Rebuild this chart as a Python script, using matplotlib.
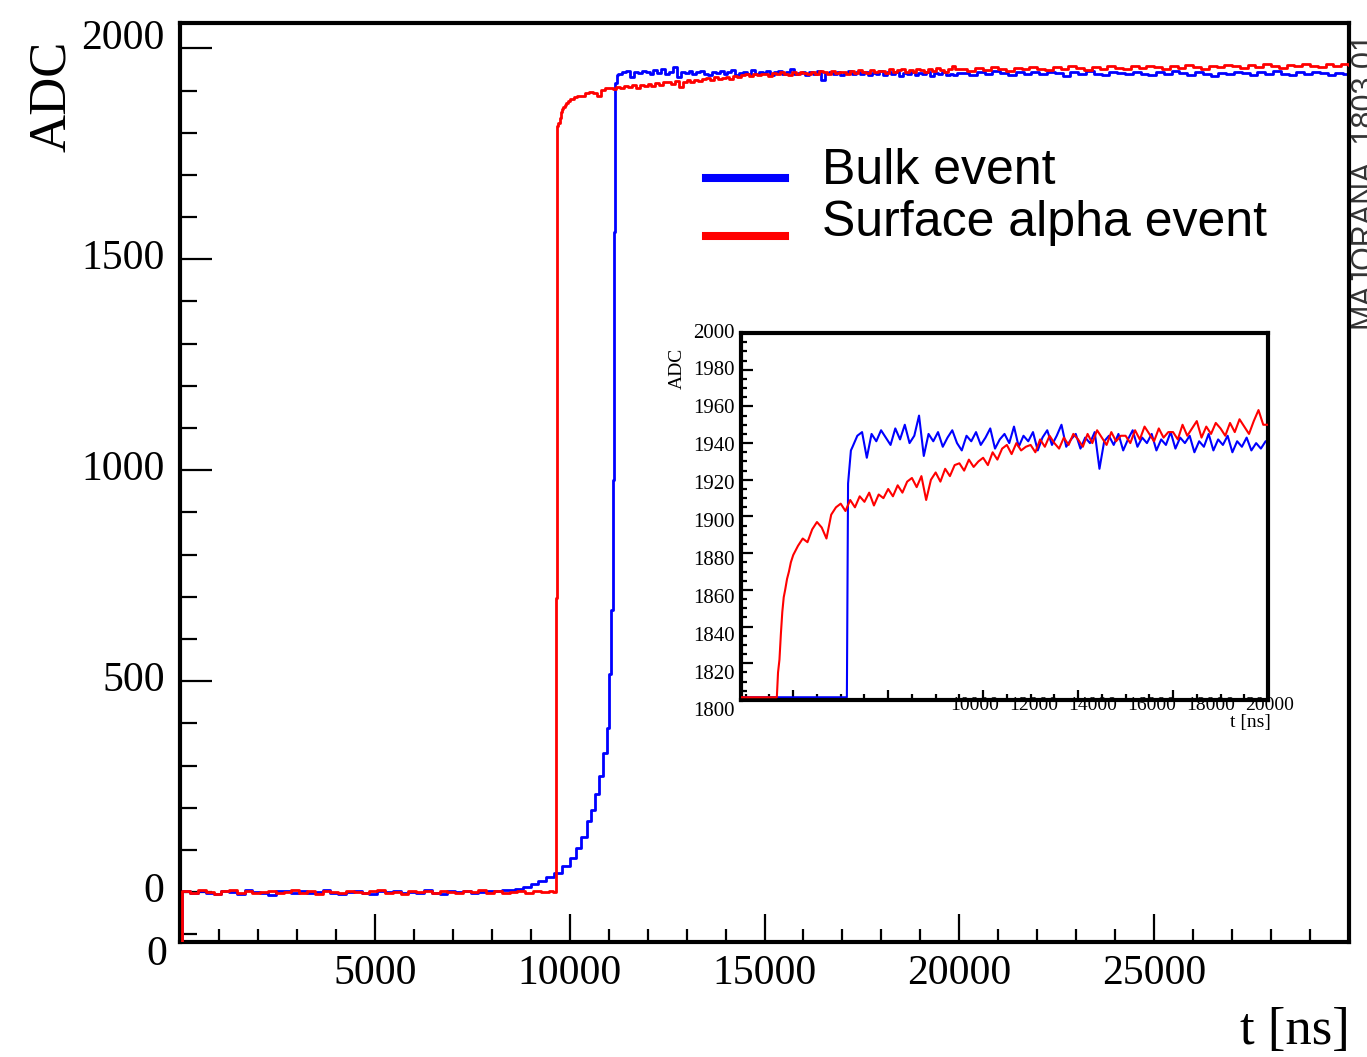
import numpy as np
import matplotlib
matplotlib.use("Agg")
import matplotlib.pyplot as plt
from matplotlib.ticker import MultipleLocator, FixedLocator
from matplotlib.lines import Line2D
from matplotlib.legend_handler import HandlerLine2D
from matplotlib.transforms import ScaledTranslation

plt.rcParams['font.family'] = ['Liberation Serif', 'DejaVu Serif']

# ------------------------------------------------------------------ data
legend_labels = ['Bulk event', 'Surface alpha event']
start_adc = -120          # first sample of each trace (below the axis range)

# Bulk event (blue)
bulk_base_t0, bulk_base_dt = 60, 200
bulk_base_adc = [2, -3, 4, -1, -5, 3, 0, -4, 5, 1,
                 -2, -6, 3, 2, -1, 4, -3, 0, 5, -2,
                 -4, 1, 3, -1, -5, 2, 0, 4, -3, 1,
                 -2, 5, -1, -4, 2, 0, 3, -2, 1, 4,
                 2, 5, 6]
bulk_rise_t = [8600, 8800, 9000, 9200, 9400, 9600, 9800, 10000, 10150, 10300,
               10450, 10550, 10650, 10750, 10850, 10950, 11000, 11050, 11100,
               11130, 11155, 11215]
bulk_rise_adc = [8, 13, 19, 27, 35, 46, 62, 82, 104, 132,
                 168, 196, 232, 275, 330, 389, 516, 670, 976,
                 1564, 1918, 1936]
bulk_top_t0, bulk_top_dt = 11250, 100
bulk_top_adc = [1938, 1944, 1946, 1932, 1945, 1941, 1947, 1943, 1939, 1948,
                1942, 1950, 1940, 1944, 1955, 1933, 1945, 1941, 1946, 1938,
                1943, 1947, 1940, 1936, 1944, 1941, 1946, 1939, 1943, 1948,
                1937, 1942, 1945, 1940, 1949, 1938, 1944, 1941, 1946, 1936,
                1943, 1947, 1939, 1944, 1950, 1938, 1942, 1945, 1937, 1943,
                1940, 1946, 1926, 1941, 1944, 1939, 1945, 1936, 1942, 1947,
                1938, 1943, 1940, 1945, 1936, 1942, 1939, 1946, 1937, 1943,
                1940, 1944, 1935, 1941, 1938, 1945, 1936, 1942, 1939, 1944,
                1935, 1941, 1938, 1943, 1936, 1940, 1937, 1941]
bulk_tail_t0, bulk_tail_dt = 20050, 200
bulk_tail_adc = [1941, 1937, 1944, 1939, 1946, 1942, 1936, 1943, 1940, 1945,
                 1938, 1944, 1941, 1935, 1943, 1939, 1946, 1940, 1937, 1944,
                 1942, 1938, 1945, 1940, 1936, 1943, 1939, 1946, 1941, 1937,
                 1944, 1940, 1935, 1942, 1938, 1945, 1941, 1937, 1943, 1939,
                 1946, 1940, 1936, 1943, 1938, 1944, 1941, 1937, 1942, 1939,
                 1940]

# Surface alpha event (red)
surf_base_t0, surf_base_dt = 60, 200
surf_base_adc = [3, -2, 5, 0, -4, 2, 6, -1, 3, -3,
                 1, 4, -2, 0, 5, -1, 2, -4, 3, 1,
                 -2, 4, 0, -3, 2, 5, -1, 1, -4, 3,
                 0, 2, -2, 4, 1, -3, 2, 0, 5, -1,
                 3, -2, 1, 4, -1, 2, 0, 3]
surf_rise_t = [9560, 9640, 9655, 9680, 9710, 9740, 9770, 9800, 9830, 9870, 9910, 9950]
surf_rise_adc = [1, 3, 697, 1815, 1822, 1836, 1848, 1856, 1860, 1866, 1870, 1875]
surf_top_t0, surf_top_dt = 10000, 100
surf_top_adc = [1879, 1884, 1888, 1886, 1893, 1897, 1894, 1888, 1901, 1905,
                1907, 1903, 1909, 1905, 1911, 1908, 1913, 1906, 1912, 1910,
                1915, 1911, 1917, 1913, 1919, 1921, 1916, 1922, 1909, 1920,
                1924, 1919, 1926, 1922, 1928, 1929, 1925, 1931, 1927, 1930,
                1932, 1928, 1935, 1931, 1937, 1939, 1934, 1940, 1936, 1938,
                1939, 1935, 1942, 1938, 1944, 1940, 1937, 1943, 1939, 1945,
                1942, 1938, 1945, 1940, 1947, 1943, 1939, 1946, 1941, 1944,
                1944, 1940, 1947, 1942, 1949, 1945, 1941, 1948, 1943, 1946,
                1946, 1942, 1950, 1944, 1948, 1952, 1943, 1949, 1945, 1951,
                1948, 1944, 1951, 1946, 1953, 1949, 1945, 1952, 1958, 1950]
surf_tail_t0, surf_tail_dt = 20000, 200
surf_tail_adc = [1950, 1946, 1953, 1949, 1955, 1951, 1947, 1954, 1950, 1956,
                 1952, 1948, 1955, 1951, 1957, 1953, 1949, 1956, 1952, 1958,
                 1954, 1950, 1957, 1953, 1959, 1955, 1951, 1958, 1954, 1960,
                 1956, 1952, 1959, 1955, 1961, 1957, 1953, 1960, 1956, 1962,
                 1958, 1954, 1961, 1957, 1963, 1959, 1955, 1962, 1958, 1964,
                 1960]


def grid(t0, dt, vals):
    return t0 + dt * np.arange(len(vals))


bulk_t = np.concatenate([[0], grid(bulk_base_t0, bulk_base_dt, bulk_base_adc), bulk_rise_t,
                         grid(bulk_top_t0, bulk_top_dt, bulk_top_adc),
                         grid(bulk_tail_t0, bulk_tail_dt, bulk_tail_adc)])
bulk_adc = np.concatenate([[start_adc], bulk_base_adc, bulk_rise_adc, bulk_top_adc, bulk_tail_adc]).astype(float)
surf_t = np.concatenate([[0], grid(surf_base_t0, surf_base_dt, surf_base_adc), surf_rise_t,
                         grid(surf_top_t0, surf_top_dt, surf_top_adc),
                         grid(surf_tail_t0, surf_tail_dt, surf_tail_adc)])
surf_adc = np.concatenate([[start_adc], surf_base_adc, surf_rise_adc, surf_top_adc, surf_tail_adc]).astype(float)

BLUE, RED = '#0000ff', '#ff0000'

# ------------------------------------------------------------------ figure
W, H = 1367, 1057
fig = plt.figure(figsize=(W / 100, H / 100), dpi=100)


def px_axes(l, t, r, b):
    return [l / W, 1 - b / H, (r - l) / W, (b - t) / H]


ax = fig.add_axes(px_axes(180, 23, 1349, 942))
ax.plot(bulk_t, bulk_adc, color=BLUE, lw=2.0, drawstyle='steps-post', zorder=2)
ax.plot(surf_t, surf_adc, color=RED, lw=2.0, drawstyle='steps-post', zorder=3)
ax.set_xlim(0, 30000)
ax.set_ylim(-118, 2060)
ax.xaxis.set_major_locator(FixedLocator([5000, 10000, 15000, 20000, 25000]))
ax.xaxis.set_minor_locator(MultipleLocator(1000))
ax.yaxis.set_major_locator(FixedLocator([0, 500, 1000, 1500, 2000]))
ax.yaxis.set_minor_locator(MultipleLocator(100))
ax.tick_params(which='both', direction='in', top=False, right=False,
               labelsize=30, width=1.6, color='black')
ax.tick_params(axis='y', which='major', length=23, pad=11)
ax.tick_params(axis='y', which='minor', length=12.5)
ax.tick_params(axis='x', which='major', length=20, pad=9)
ax.tick_params(axis='x', which='minor', length=9.5)
for sp in ax.spines.values():
    sp.set_linewidth(3)
fig.canvas.draw()
for lab in ax.get_yticklabels():
    up = 14 if lab.get_text() == '2000' else 5
    lab.set_transform(lab.get_transform() + ScaledTranslation(0, up / 100, fig.dpi_scale_trans))

fig.text(52 / W, 1 - 96 / H, 'ADC', rotation=90, ha='center', va='center', fontsize=38)
fig.text(1350 / W, 1 - 1031 / H, 't [ns]', ha='right', va='center', fontsize=38)
fig.text(157 / W, 1 - 965 / H, '0', ha='center', va='baseline', fontsize=30)
fig.text(1363 / W, 1 - 179 / H, 'MAJORANA_1803.01', rotation=90, ha='center', va='center',
         fontsize=22, color='#333333', family=['Liberation Sans', 'DejaVu Sans'])


# legend
class ShiftedLine(HandlerLine2D):
    def __init__(self, dy, **kw):
        super().__init__(**kw)
        self.dy = dy

    def create_artists(self, legend, orig_handle, xdescent, ydescent, width, height, fontsize, trans):
        arts = super().create_artists(legend, orig_handle, xdescent, ydescent, width, height, fontsize, trans)
        for a in arts:
            a.set_ydata(np.asarray(a.get_ydata(), float) - self.dy)
        return arts


h_bulk = Line2D([], [], color=BLUE, lw=5.8)
h_surf = Line2D([], [], color=RED, lw=5.8)
ax.legend([h_bulk, h_surf], legend_labels,
          handler_map={h_bulk: ShiftedLine(8), h_surf: ShiftedLine(12)},
          loc='upper left', bbox_to_anchor=(0.4500, 0.864), frameon=False,
          prop={'family': ['Liberation Sans', 'DejaVu Sans'], 'size': 36},
          handlelength=1.58, handletextpad=0.74, labelspacing=0.13,
          borderpad=0, borderaxespad=0)

# ------------------------------------------------------------------ inset
axin = fig.add_axes(px_axes(741, 333, 1268, 700))
lo = 1801.5
axin.plot(bulk_t, np.clip(bulk_adc, lo, None), color=BLUE, lw=1.5, zorder=2)
axin.plot(surf_t, np.clip(surf_adc, lo, None), color=RED, lw=1.5, zorder=3)
axin.set_xlim(8900, 20000)
axin.set_ylim(1800, 2000)
axin.xaxis.set_major_locator(MultipleLocator(2000))
axin.xaxis.set_minor_locator(MultipleLocator(500))
axin.yaxis.set_major_locator(MultipleLocator(20))
axin.yaxis.set_minor_locator(MultipleLocator(5))
axin.tick_params(which='both', direction='in', top=False, right=False,
                 labelbottom=False, labelleft=False, width=1.6)
axin.tick_params(axis='y', which='major', length=8.5)
axin.tick_params(axis='y', which='minor', length=4.5)
axin.tick_params(axis='x', which='major', length=7.5)
axin.tick_params(axis='x', which='minor', length=4)
for sp in axin.spines.values():
    sp.set_linewidth(3)

inset_ylabels = ['2000', '1980', '1960', '1940', '1920', '1900', '1880', '1860', '1840', '1820', '1800']
inset_xlabels = ['10000', '12000', '14000', '16000', '18000', '20000']
ih, iw = 367.0, 527.0
for k, s in enumerate(inset_ylabels):
    axin.text(-6 / iw, 1 - 37.9 * k / ih, s, transform=axin.transAxes,
              ha='right', va='center', fontsize=15)
for k, s in enumerate(inset_xlabels):
    axin.text((975 + 59 * k - 741) / iw, -5 / ih, s, transform=axin.transAxes,
              ha='center', va='center', fontsize=14, zorder=5)
fig.text(677 / W, 1 - 368 / H, 'ADC', rotation=90, ha='center', va='center', fontsize=14)
fig.text(1250 / W, 1 - 723 / H, 't [ns]', ha='center', va='center', fontsize=14)

fig.savefig('out.png', dpi=100)
